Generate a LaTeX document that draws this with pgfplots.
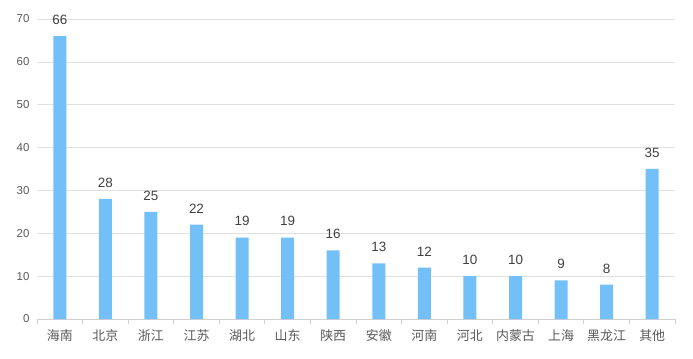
\documentclass[border=0pt]{standalone}
\usepackage{pgfplots}
\pgfplotsset{compat=1.18}
\usepackage{fontspec}
\setmainfont{Liberation Sans}
\newfontfamily\cjk{Noto Sans CJK SC}
\definecolor{barblue}{HTML}{73BFF8}
\definecolor{gridgray}{HTML}{E0E0E0}
\definecolor{axgray}{HTML}{D0D0D0}
\definecolor{txtgray}{HTML}{595959}
\definecolor{lblgray}{HTML}{404040}
\begin{document}
\begin{tikzpicture}
\useasboundingbox (-37bp,-40bp) rectangle (656bp,319bp);
\begin{axis}[
  scale only axis,
  width=638bp, height=300bp,
  at={(0,0)}, anchor=south west,
  xmin=-0.5, xmax=13.5,
  ymin=0, ymax=70,
  ytick={0,10,...,70},
  xtick={0,...,13},
  xticklabels={海南,北京,浙江,江苏,湖北,山东,陕西,安徽,河南,河北,内蒙古,上海,黑龙江,其他},
  x tick label style={font=\cjk\fontsize{13}{15}\selectfont, text=txtgray, yshift=-7bp},
  yticklabel style={font=\fontsize{11.5}{13}\selectfont, text=txtgray, xshift=-4bp},
  /pgf/number format/assume math mode=true,
  minor xtick={-0.5,0.5,...,13.5},
  major tick length=0pt,
  minor tick length=5bp,
  tick align=outside,
  minor tick style={axgray, line width=0.8bp},
  axis x line*=bottom,
  axis y line*=left,
  x axis line style={axgray, line width=0.8bp},
  y axis line style={draw=none},
  ymajorgrids,
  grid style={gridgray, line width=0.6bp},
  clip=false,
]
\addplot[ybar, bar width=13bp, fill=barblue, draw=none,
  nodes near coords,
  every node near coord/.append style={font=\fontsize{13.5}{15}\selectfont, text=lblgray, yshift=8bp}]
  coordinates {(0,66) (1,28) (2,25) (3,22) (4,19) (5,19) (6,16) (7,13) (8,12) (9,10) (10,10) (11,9) (12,8) (13,35)};
\end{axis}
\end{tikzpicture}
\end{document}
